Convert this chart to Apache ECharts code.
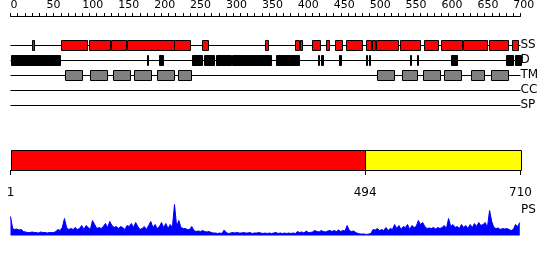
<!DOCTYPE html>
<html><head><meta charset="utf-8">
<script src="https://cdn.jsdelivr.net/npm/echarts@6/dist/echarts.min.js"></script>
<style>html,body{margin:0;padding:0;background:#fff}#c{width:550px;height:260px}</style>
</head><body><div id="c"></div>
<script>
// ---- data ----
const seqLength = 710;
const rulerMax = 710;
const trackNames = ['SS', 'D', 'TM', 'CC', 'SP'];
const ssSegments = [[30.3,32.3],[70.7,106.1],[109.3,138.1],[139.9,161.2],[162.2,227.2],[228,249.5],[267,274.5],[354.3,358.1],[396.5,401.2],[402.6,406.2],[420.2,431.3],[439.2,443],[452.2,461.1],[467.5,489.4],[494.9,501.5],[503.4,507.6],[509.3,539.1],[542.7,569.7],[575.3,595.6],[598.9,629],[630.4,663.4],[665.7,692.2],[698.6,707]];
const disorderSegments = [[0,68.5],[190,191.4],[206.7,212.3],[253.1,266.6],[269.4,283.7],[286.1,306.9],[308.4,362.2],[369.6,401.2],[428.5,429.9],[431.9,435.5],[457.7,459.7],[494.9,496.3],[498.7,500.5],[556.2,558],[565.5,567.8],[613.3,621.2],[689.8,700],[702.4,710]];
const tmSegments = [[76.3,99.1],[111.1,133.9],[143.1,165.9],[172.4,195.2],[204.4,227.2],[233.6,250.9],[510.7,533.5],[545.5,565.9],[574.7,597.5],[603.9,626.8],[641.5,659.6],[669.3,692.2]];
const ccSegments = [];
const spSegments = [];
const domainBounds = [1, 494, 710];
const psStart = 1, psStep = 3;
const psValues = [
19,7,6,6.5,5.5,6,4,3.5,3,3,
3.5,3,3,2.5,3.5,3,3,2.5,3,3,
3,4,6,5,8,17,8,6,7,6,
8,6,7,10,6,10,8,6,15,11,
7,8,7,9,12,8,14,10,8,9,
7,9,8,6,10,9,12,8,13,9,
6,7,9,6,10,14,8,11,7,9,
13,8,12,7,11,8,31,9,15,8,
7,7,6,6,9,5,4,4.5,4,5,
4,3.5,4,3,2.5,2.5,2,2.5,2,5.5,
3,2,2.5,3,2.5,3,2.5,2.5,3,2.5,
2.5,3,2,2.5,2.5,3,2.5,2,2.5,2,
2.5,2,2.5,3,2,2.5,2,2.5,2,2.5,
2,2.5,2,4,3,3.5,2.5,4.5,3,3,
3.5,5,4,3.5,5,4,3.5,4.5,5,4,
5,4,5.5,4,5,4.5,10,5,4,4.5,
3,2,1.5,1.5,1.5,1,1.5,2,6,5.5,
7,5,6,5,8,5,7,6,11,7,
10,6,9,8,11,6,10,8,9,15,
11,13,9,7,7.5,7,8,6.5,8,7,
8,10,7,17,9,11,8,9,7,11,
8,10,7,11,8,12,9,13,10,11,
13,8,25,14,8,7,7.5,6,7,6.5,
7,6,5,6,11,9,13
];

// ---- chart ----
const FONT = 'DejaVu Sans';
const chart = echarts.init(document.getElementById('c'), null, {renderer: 'canvas'});

function trackRender(fill) {
  return function (params, api) {
    const a = api.coord([api.value(0), api.value(2)]);
    const b = api.coord([api.value(1), api.value(2)]);
    const x0 = Math.round(a[0]);
    const x1 = Math.max(Math.round(b[0]), x0 + 1);
    const yc = Math.round(a[1]);
    return {
      type: 'rect',
      shape: {x: x0 + 0.5, y: yc - 5 + 0.5, width: x1 - x0, height: 10},
      style: {fill: fill, stroke: '#000', lineWidth: 1}
    };
  };
}
function trackData(segs, name) {
  const idx = trackNames.indexOf(name);
  return segs.map(s => [s[0], s[1], idx]);
}
const domainFills = ['#ff0000', '#ffff00'];
const domainData = [];
for (let i = 0; i < domainBounds.length - 1; i++) domainData.push([domainBounds[i], domainBounds[i + 1], i]);

chart.setOption({
  animation: false,
  title: {text: 'PS', left: 521, top: 204, padding: 0,
    textStyle: {fontFamily: FONT, fontSize: 12, fontWeight: 'normal', color: '#000'}},
  grid: [
    {left: 10.5, width: 510, top: 15, height: 1},
    {left: 10.5, width: 510, top: 45, height: 60},
    {left: 10.5, width: 510, top: 150, height: 20},
    {left: 10.5, width: 510, top: 204, height: 31.5}
  ],
  xAxis: [
    {gridIndex: 0, type: 'value', position: 'top', min: 0, max: rulerMax, interval: 10,
      axisLine: {show: true, lineStyle: {color: '#000', width: 1}},
      axisTick: {show: true, length: 3, lineStyle: {color: '#000'}},
      splitLine: {show: false},
      axisLabel: {show: true, margin: 4, align: 'left', fontFamily: FONT, fontSize: 11, color: '#000',
        formatter: v => (v % 50 === 0 && v <= 700) ? String(v) : ''}},
    {gridIndex: 1, type: 'value', min: 0, max: rulerMax, show: false},
    {gridIndex: 2, type: 'value', min: 1, max: seqLength, position: 'bottom', offset: 10,
      axisLine: {show: true, lineStyle: {color: '#000', width: 1}},
      axisTick: {show: true, length: 5, customValues: domainBounds, lineStyle: {color: '#000'}},
      splitLine: {show: false},
      axisLabel: {show: true, margin: 7, customValues: domainBounds, fontFamily: FONT, fontSize: 12, color: '#000',
        showMinLabel: true, showMaxLabel: true}},
    {gridIndex: 3, type: 'value', min: 1, max: seqLength, show: false}
  ],
  yAxis: [
    {gridIndex: 0, type: 'value', show: false},
    {gridIndex: 1, type: 'category', data: trackNames, inverse: true, boundaryGap: false, position: 'right',
      axisLine: {show: false}, axisTick: {show: false},
      splitLine: {show: true, interval: 0, lineStyle: {color: '#000', width: 1}},
      axisLabel: {show: true, interval: 0, margin: 0, align: 'left', fontFamily: FONT, fontSize: 12, color: '#000'}},
    {gridIndex: 2, type: 'value', min: 0, max: 1, show: false},
    {gridIndex: 3, type: 'value', min: 0, max: 31.5, show: false}
  ],
  series: [
    {type: 'custom', xAxisIndex: 1, yAxisIndex: 1, renderItem: trackRender('#ff0000'), data: trackData(ssSegments, 'SS'), silent: true},
    {type: 'custom', xAxisIndex: 1, yAxisIndex: 1, renderItem: trackRender('#000000'), data: trackData(disorderSegments, 'D'), silent: true},
    {type: 'custom', xAxisIndex: 1, yAxisIndex: 1, renderItem: trackRender('#808080'), data: trackData(tmSegments, 'TM'), silent: true},
    {type: 'custom', xAxisIndex: 1, yAxisIndex: 1, renderItem: trackRender('#ffa500'), data: trackData(ccSegments, 'CC'), silent: true},
    {type: 'custom', xAxisIndex: 1, yAxisIndex: 1, renderItem: trackRender('#00aa00'), data: trackData(spSegments, 'SP'), silent: true},
    {type: 'custom', xAxisIndex: 2, yAxisIndex: 2, silent: true, data: domainData,
      renderItem: function (params, api) {
        const a = api.coord([api.value(0), 1]);
        const b = api.coord([api.value(1), 0]);
        const x0 = Math.round(a[0]), x1 = Math.round(b[0]);
        return {type: 'rect', shape: {x: x0 + 0.5, y: Math.round(a[1]) + 0.5, width: x1 - x0, height: Math.round(b[1]) - Math.round(a[1])},
          style: {fill: domainFills[api.value(2)], stroke: '#000', lineWidth: 1}};
      }},
    {type: 'line', xAxisIndex: 3, yAxisIndex: 3, silent: true, showSymbol: false, symbol: 'none',
      data: psValues.map((v, i) => [psStart + i * psStep, v]),
      lineStyle: {color: '#0000ff', width: 1}, areaStyle: {color: '#0000ff', opacity: 1}}
  ]
});
</script>
</body></html>
